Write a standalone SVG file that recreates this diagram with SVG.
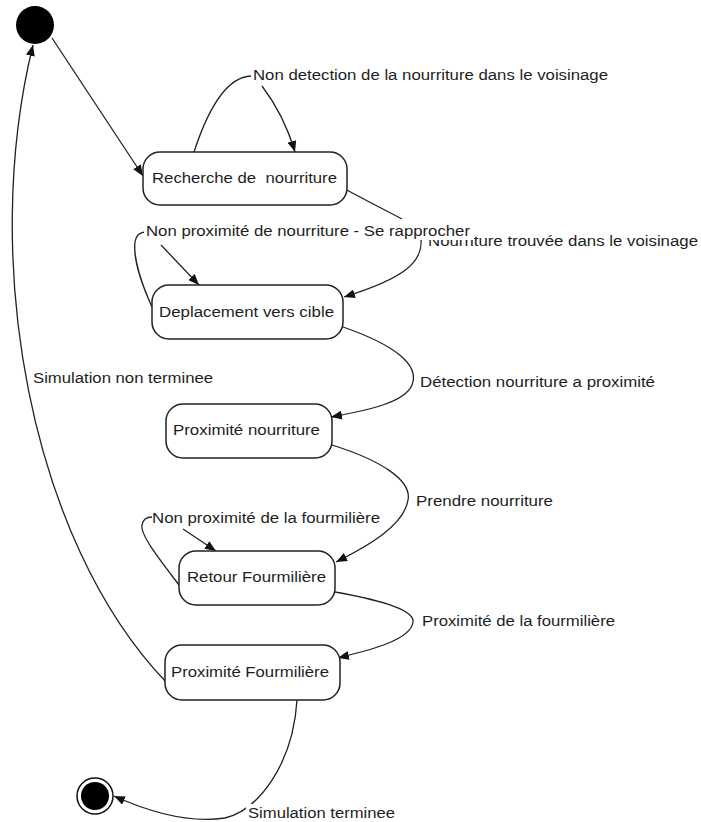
<svg xmlns="http://www.w3.org/2000/svg" width="701" height="822" viewBox="0 0 701 822">
  <style>
    .state { fill: #ffffff; stroke: #222222; stroke-width: 1.5; }
    .edge { fill: none; stroke: #222222; stroke-width: 1.3; }
    .arrow { marker-end: url(#head); }
    text { font-family: "Liberation Sans", Arial, sans-serif; font-size: 15.5px; fill: #1e1e1e; white-space: pre; }
    .bg { fill: #ffffff; }
  </style>
  <defs>
    <marker id="head" markerUnits="userSpaceOnUse" markerWidth="11" markerHeight="9" refX="11" refY="4.5" orient="auto">
      <path d="M0,0 L11,4.5 L0,9 z" fill="#111111"/>
    </marker>
  </defs>

  <rect width="701" height="822" fill="#ffffff"/>

  <!-- transitions -->
  <g id="connectors">
    <path class="edge arrow" d="M52,38 L143,176"/>
    <path class="edge" d="M194,152 C209,106 228,77 251,76"/>
    <path class="edge arrow" d="M262,86 C275,103 287,125 295,152"/>
    <path class="edge" d="M347,190 C365,200 385,210 402,219"/>
    <path class="edge arrow" d="M421,239 C423,262 405,278 344,297"/>
    <path class="edge" d="M152,307 C142,285 133,258 135,242 C136,235 140,232 146,232"/>
    <path class="edge arrow" d="M161,245 L199,285"/>
    <path class="edge arrow" d="M343,327 C395,345 420,365 412,385 C405,402 370,410 331,417"/>
    <path class="edge arrow" d="M332,445 C380,460 412,480 408,500 C404,525 370,545 336,562"/>
    <path class="edge" d="M179,585 C160,560 140,535 142,525 C143,519 147,517 152,517"/>
    <path class="edge arrow" d="M183,529 L216,551"/>
    <path class="edge arrow" d="M335,592 C380,600 415,610 413,622 C411,640 370,650 338,658"/>
    <path class="edge arrow" d="M166,682 C30,540 -20,260 33,45"/>
    <path class="edge arrow" d="M297,700 C293,765 258,810 225,818 C185,824 145,810 114,796"/>
  </g>

  <!-- transition labels -->
  <g id="labels">
    <text x="253" y="80" textLength="355" lengthAdjust="spacingAndGlyphs">Non detection de la nourriture dans le voisinage</text>
    <text x="428" y="246" textLength="270" lengthAdjust="spacingAndGlyphs">Nourriture trouvée dans le voisinage</text>
    <rect class="bg" x="144" y="222" width="330" height="18"/>
    <text x="146" y="236" textLength="324" lengthAdjust="spacingAndGlyphs">Non proximité de nourriture - Se rapprocher</text>
    <text x="33" y="383" textLength="180" lengthAdjust="spacingAndGlyphs">Simulation non terminee</text>
    <text x="420" y="387" textLength="235" lengthAdjust="spacingAndGlyphs">Détection nourriture a proximité</text>
    <text x="416" y="506" textLength="137" lengthAdjust="spacingAndGlyphs">Prendre nourriture</text>
    <text x="152" y="523" textLength="228" lengthAdjust="spacingAndGlyphs">Non proximité de la fourmilière</text>
    <text x="422" y="626" textLength="193" lengthAdjust="spacingAndGlyphs">Proximité de la fourmilière</text>
    <rect class="bg" x="246" y="804" width="152" height="18"/>
    <text x="248" y="818" textLength="147" lengthAdjust="spacingAndGlyphs">Simulation terminee</text>
  </g>

  <!-- states -->
  <g id="initial">
    <circle cx="35" cy="25" r="19" fill="#000000"/>
  </g>
  <g id="recherche">
    <rect class="state" x="143" y="152" width="204" height="53" rx="17"/>
    <text x="152" y="183" textLength="185" lengthAdjust="spacingAndGlyphs">Recherche de  nourriture</text>
  </g>
  <g id="deplacement">
    <rect class="state" x="152" y="285" width="191" height="54" rx="17"/>
    <text x="159" y="317" textLength="175" lengthAdjust="spacingAndGlyphs">Deplacement vers cible</text>
  </g>
  <g id="proximite-nourriture">
    <rect class="state" x="166" y="404" width="166" height="54" rx="17"/>
    <text x="173" y="435" textLength="147" lengthAdjust="spacingAndGlyphs">Proximité nourriture</text>
  </g>
  <g id="retour">
    <rect class="state" x="179" y="551" width="156" height="54" rx="17"/>
    <text x="187" y="582" textLength="139" lengthAdjust="spacingAndGlyphs">Retour Fourmilière</text>
  </g>
  <g id="proximite-fourmiliere">
    <rect class="state" x="165" y="645" width="175" height="55" rx="17"/>
    <text x="171" y="677" textLength="158" lengthAdjust="spacingAndGlyphs">Proximité Fourmilière</text>
  </g>
  <g id="final">
    <circle cx="95" cy="796" r="18" fill="#ffffff" stroke="#111111" stroke-width="1.5"/>
    <circle cx="95" cy="796" r="14" fill="#000000"/>
  </g>
</svg>
